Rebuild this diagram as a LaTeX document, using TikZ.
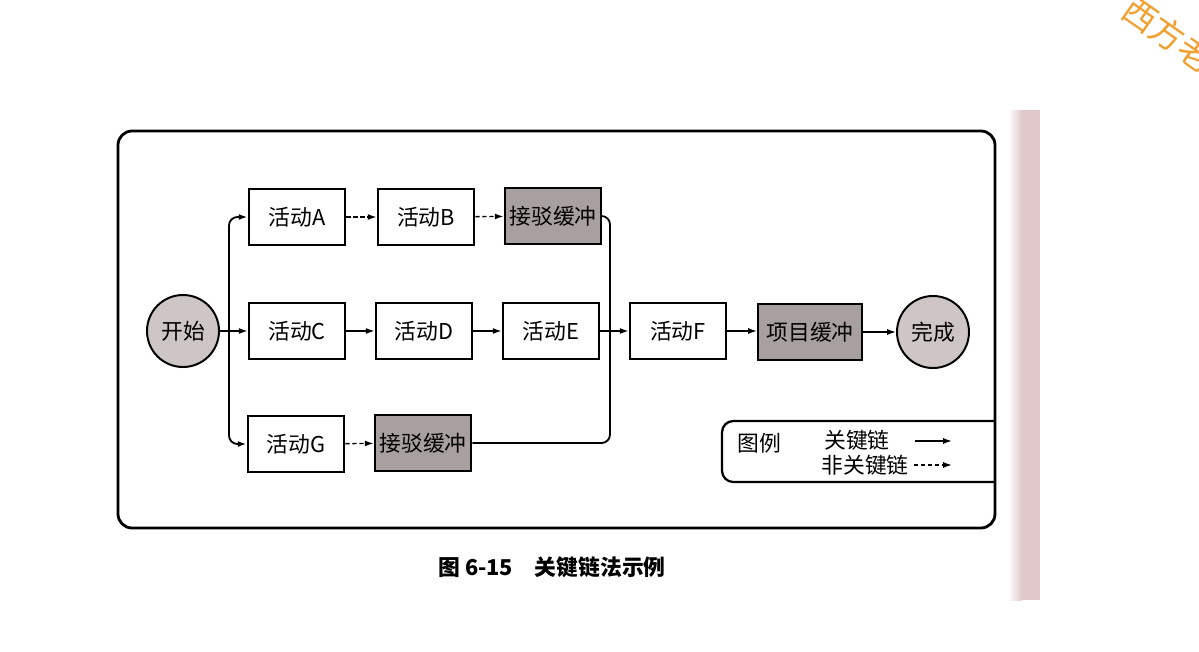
\documentclass[tikz,border=0pt]{standalone}
\usepackage{fontspec}
\setmainfont{Noto Sans CJK SC}
\usepackage{tikz}
\usetikzlibrary{arrows.meta}

\definecolor{paperpink}{RGB}{224,200,202}
\definecolor{stampgray}{RGB}{206,198,196}
\definecolor{buffgray}{RGB}{168,160,158}
\definecolor{markorange}{RGB}{240,160,48}

\tikzset{
  actbox/.style={draw, line width=1.4pt, fill=white, minimum width=2.42cm, minimum height=1.42cm, inner sep=0pt},
  buffbox/.style={actbox, fill=buffgray},
  endcircle/.style={draw, circle, line width=1.4pt, fill=stampgray, minimum size=1.8cm, inner sep=0pt},
  critical/.style={->, line width=1pt},
  noncritical/.style={->, line width=1pt, densely dashed},
  feed/.style={line width=1.3pt, rounded corners=6}
}

\begin{document}
\begin{tikzpicture}[x=0.025cm, y=-0.025cm, every node/.style={font=\fontsize{15.5}{17}\selectfont}, >={Latex[length=2.2mm, width=1.5mm]}]
	\useasboundingbox (0,0) rectangle (1199,652);
	\shade[left color=white, right color=paperpink] (1008,110) rectangle (1022,600);
	\fill[paperpink] (1022,110) rectangle (1040,600);
	\node[markorange, rotate=-35, font=\fontsize{24}{26}\selectfont] (mark) at (1168,34) {西方老};
	% frame
	\draw[line width=2pt, rounded corners=10] (118,131) rectangle (995,528);
	% start and finish
	\node[endcircle] (start) at (183,331) {开始};
	\node[endcircle] (finish) at (933,332) {完成};
	% upper chain
	\node[actbox] (A) at (297,217) {活动A};
	\node[actbox] (B) at (426,217) {活动B};
	\node[buffbox] (bufAB) at (553,216) {接驳缓冲};
	% critical chain
	\node[actbox] (C) at (297,331) {活动C};
	\node[actbox] (D) at (424,331) {活动D};
	\node[actbox] (E) at (551,331) {活动E};
	\node[actbox] (F) at (678,331) {活动F};
	\node[buffbox, minimum width=2.6cm] (bufP) at (810,332) {项目缓冲};
	% lower chain
	\node[actbox] (G) at (296,444) {活动G};
	\node[buffbox] (bufG) at (423,443) {接驳缓冲};
	% branch and merge
	\coordinate (branch) at (229,331);
	\coordinate (merge) at (610,331);
	\draw[critical] (start) -- (C);
	\draw[feed, ->] (branch) |- (A.west);
	\draw[feed, ->] (branch) |- (G.west);
	\draw[feed] (bufAB.east) -| (merge);
	\draw[feed] (bufG.east) -| (merge);
	\draw[noncritical] (A) -- (B);
	\draw[noncritical] (B) -- (bufAB);
	\draw[noncritical] (G) -- (bufG);
	\draw[critical] (C) -- (D);
	\draw[critical] (D) -- (E);
	\draw[critical] (E) -- (F);
	\draw[critical] (F.east) -- (F.east -| bufP.west);
	\draw[critical] (bufP) -- (finish);
	% legend
	\draw[line width=1.6pt, rounded corners=8] (995,421) -| (722,482) -- (995,482);
	\node (legend) at (759,443) {图例};
	\node (keyname) at (857,440) {关键链};
	\node (otherkey) at (865,465) {非关键链};
	\coordinate (keyA) at (915,441);
	\coordinate (keyB) at (952,441);
	\coordinate (otherA) at (914,465);
	\coordinate (otherB) at (952,465);
	\draw[critical] (keyA) -- (keyB);
	\draw[noncritical] (otherA) -- (otherB);
	% caption
	\node[font=\fontsize{15.5}{17}\selectfont\bfseries] (caption) at (552,567) {图 6-15\quad 关键链法示例};
\end{tikzpicture}
\end{document}
